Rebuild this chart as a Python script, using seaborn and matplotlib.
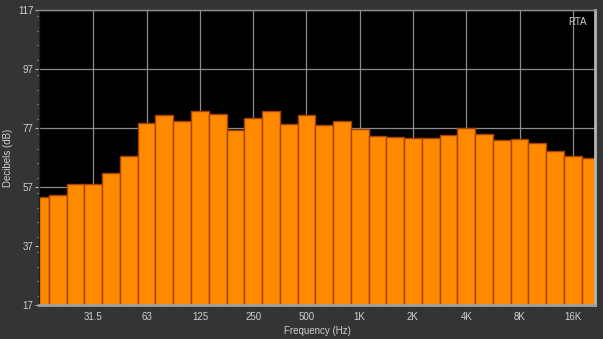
import matplotlib
matplotlib.use("Agg")
import matplotlib.pyplot as plt
import seaborn as sns
import pandas as pd
from matplotlib.ticker import MultipleLocator, FixedLocator

bands = ["16", "20", "25", "31.5", "40", "50", "63", "80", "100", "125", "160",
         "200", "250", "315", "400", "500", "630", "800", "1K", "1.25K", "1.6K",
         "2K", "2.5K", "3.15K", "4K", "5K", "6.3K", "8K", "10K", "12.5K", "16K", "20K"]
levels_db = [53.7, 54.3, 58.1, 58.0, 61.7, 67.5, 78.6, 81.4, 79.4, 82.7, 81.6,
             76.4, 80.3, 82.9, 78.4, 81.4, 78.1, 79.4, 76.8, 74.3, 73.8,
             73.5, 73.5, 74.7, 77.1, 74.9, 73.0, 73.2, 71.8, 69.3, 67.5, 66.9]
tick_labels = ["31.5", "63", "125", "250", "500", "1K", "2K", "4K", "8K", "16K"]
y_ticks = [17, 37, 57, 77, 97, 117]

df = pd.DataFrame({"band": bands, "level": levels_db})

plt.rcParams['font.family'] = ['Liberation Sans', 'DejaVu Sans']

fig = plt.figure(figsize=(6.03, 3.39), dpi=100)
fig.patch.set_facecolor("#343434")
ax = fig.add_axes([39/603, 1-305/339, (595-39)/603, (305-10)/339])
ax.set_facecolor("black")

sns.barplot(data=df, x="band", y="level", order=bands, color="#ff8a00",
            saturation=1, width=1.0, edgecolor="#a5420c", linewidth=1.0, ax=ax)

ax.set_ylim(17, 117)
ax.set_xlim(-0.06, 31.25)

tick_pos = [bands.index(t) for t in tick_labels]
ax.xaxis.set_major_locator(FixedLocator(tick_pos))
ax.set_xticklabels(tick_labels)
ax.set_yticks(y_ticks)
ax.yaxis.set_minor_locator(MultipleLocator(5))

ax.set_axisbelow(True)
ax.grid(True, which="major", color="#8c8c8c", linewidth=0.9)

ax.tick_params(axis="x", length=0, pad=5, colors="#d0d0d0", labelsize=7)
ax.tick_params(axis="y", which="major", length=3, width=0.8, pad=1,
               color="#b0b0b0", labelcolor="#d0d0d0", labelsize=7)
ax.tick_params(axis="y", which="minor", length=1.5, width=0.8, color="#909090")

ax.set_xlabel("Frequency (Hz)", color="#d0d0d0", fontsize=7, labelpad=3)
ax.set_ylabel("Decibels (dB)", color="#d0d0d0", fontsize=7, labelpad=4)

for side, col, lw in [("top", "#8c8c8c", 1.0), ("bottom", "#a0a0a0", 2.0),
                      ("right", "#b4b4b4", 2.0), ("left", "#202020", 1.0)]:
    ax.spines[side].set_color(col)
    ax.spines[side].set_linewidth(lw)

ax.text(0.985, 0.975, "RTA", transform=ax.transAxes, ha="right", va="top",
        color="#d0d0d0", fontsize=7)

fig.savefig("out.png", dpi=100, facecolor=fig.get_facecolor())
